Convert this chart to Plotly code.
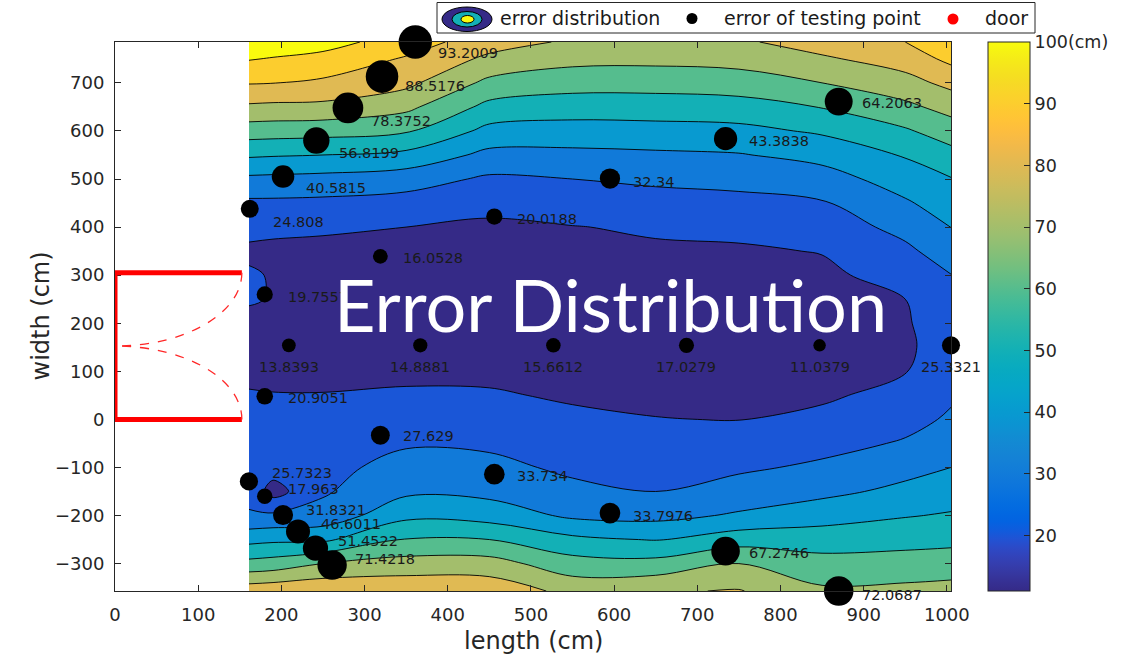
import numpy as np
import plotly.graph_objects as go

# ---------------------------------------------------------------------------
# Testing points: position (cm) and positioning error (cm)
# ---------------------------------------------------------------------------
point_x = [361, 321, 280, 242, 202, 162, 456, 595, 734, 870,
           319, 180, 209, 367, 527, 687, 847, 1005, 180, 319,
           456, 595, 734, 870, 161, 180, 202, 220, 241, 261]
point_y = [785, 713, 648, 580, 505, 438, 422, 501, 584, 661,
           339, 260, 154, 154, 154, 154, 154, 154, 48, -33,
           -114, -195, -274, -357, -129, -160, -199, -233, -268, -303]
point_err = [93.2009, 88.5176, 78.3752, 56.8199, 40.5815, 24.808, 20.0188, 32.34, 43.3838, 64.2063,
             16.0528, 19.7557, 13.8393, 14.8881, 15.6612, 17.0279, 11.0379, 25.3321, 20.9051, 27.629,
             33.734, 33.7976, 67.2746, 72.0687, 25.7323, 17.963, 31.8321, 46.6011, 51.4522, 71.4218]

# label placement next to each point (pixel offsets, anchor)
label_dx = [21] * 12 + [0] * 6 + [21] * 12
label_dy = [11, 9, 13, 12, 11, 13, 2, 3, 2, 1,
            2, 3, 22, 22, 22, 22, 22, 22, 2, 1,
            2, 3, 2, 4, -8, -7, -5, -7, -7, -6]
label_anchor = ["left"] * 12 + ["center"] * 6 + ["left"] * 12

# ---------------------------------------------------------------------------
# Error surface (cm) on a length x width grid, one profile per length column
# ---------------------------------------------------------------------------
grid_x = [161, 190, 250, 350, 450, 550, 650, 750, 850, 950, 1005]
grid_y = [-357, -300, -250, -200, -150, -100, -50, 0, 50, 100, 150, 200,
          250, 300, 350, 400, 450, 500, 550, 600, 650, 700, 750, 785]

err_x161 = [86, 63.0, 46.9, 31.0, 27.1, 24.9, 23.4, 22.0, 20.6, 18.3, 15.5, 17.9,
            20.8, 21.0, 18.5, 22.5, 28.1, 38.0, 51.4, 64.9, 78.4, 90.6, 100.6, 107]
err_x190 = [87, 64.3, 48.0, 31.7, 16.0, 24.5, 24.0, 22.8, 20.4, 17.5, 14.2, 16.5,
            19.5, 19.4, 18.5, 21.5, 28.1, 37.6, 50.8, 64.5, 77.8, 90.2, 99.4, 106]
err_x250 = [88.5, 70.0, 48.1, 33.5, 28.8, 27.0, 25.6, 23.8, 20.5, 16.5, 14.3, 14.6,
            15.0, 15.6, 17.5, 21.4, 27.7, 36.8, 50.0, 63.8, 77.5, 88.3, 96.9, 104]
err_x350 = [87.5, 74.1, 60.5, 47.5, 38.1, 33.5, 29.0, 25.2, 21.3, 17.8, 14.9, 15.2,
            15.5, 15.8, 16.8, 20.0, 26.1, 34.5, 47.4, 61.1, 72.5, 82.5, 89.0, 95]
err_x450 = [86.5, 74.1, 60.0, 45.7, 37.2, 32.6, 28.4, 24.7, 21.0, 17.8, 15.2, 15.8,
            16.5, 17.2, 18.0, 18.8, 22.0, 28.4, 37.3, 47.1, 57.1, 67.5, 77.9, 84.4]
err_x550 = [77.0, 64.0, 52.3, 38.2, 32.4, 28.1, 25.0, 21.9, 18.8, 16.8, 15.7, 16.2,
            16.8, 17.5, 18.4, 19.7, 24.6, 30.0, 37.5, 45.9, 54.8, 64.0, 73.0, 78.5]
err_x650 = [79.0, 63.3, 49.4, 37.1, 30.0, 26.7, 23.5, 20.2, 18.5, 17.6, 16.9, 17.3,
            17.8, 18.3, 18.8, 21.1, 26.2, 31.8, 38.4, 46.5, 55.0, 63.9, 72.6, 77.8]
err_x750 = [80.6, 70.0, 55.6, 41.2, 34.2, 28.4, 24.1, 19.8, 17.5, 15.8, 15.0, 15.6,
            16.5, 17.5, 18.8, 22.4, 27.3, 32.9, 39.4, 47.3, 56.0, 65.1, 73.7, 78.5]
err_x850 = [71.7, 63.5, 55.4, 45.8, 37.5, 31.7, 26.9, 22.5, 18.4, 14.9, 11.3, 13.2,
            15.6, 17.9, 20.4, 24.8, 29.1, 35.7, 43.2, 51.4, 60.4, 70.0, 78.6, 84.5]
err_x950 = [72.5, 64.1, 56.7, 49.4, 42.4, 36.9, 30.9, 27.1, 23.4, 19.6, 18.2, 18.8,
            20.0, 24.0, 28.0, 32.9, 38.8, 44.7, 50.8, 58.8, 67.7, 76.5, 84.5, 90]
err_x1005 = [73.5, 64.8, 57.5, 50.9, 45.4, 40.0, 35.6, 31.2, 28.8, 26.5, 25.3, 26.7,
             28.0, 29.8, 34.8, 40.1, 44.8, 49.5, 56.8, 64.9, 73.6, 82.7, 92.5, 99]

error_columns = [err_x161, err_x190, err_x250, err_x350, err_x450, err_x550,
                 err_x650, err_x750, err_x850, err_x950, err_x1005]
error_grid = np.array(error_columns).T  # rows follow grid_y

contour_levels = [20, 30, 40, 50, 60, 70, 80, 90, 100]
color_min = min(point_err)
color_max = 100
cbar_ticks = [20, 30, 40, 50, 60, 70, 80, 90, 100]
cbar_text = ["20", "30", "40", "50", "60", "70", "80", "90", "100(cm)"]

# door outline (cm)
door_y0, door_y1 = 0, 305
door_leaf = (door_y1 - door_y0) / 2

# ---------------------------------------------------------------------------
# Colormap (parula)
# ---------------------------------------------------------------------------
PARULA = [
    (0.2081, 0.1663, 0.5292), (0.2116, 0.1898, 0.5777), (0.2123, 0.2138, 0.6270), (0.2081, 0.2386, 0.6771),
    (0.1959, 0.2645, 0.7279), (0.1707, 0.2919, 0.7792), (0.1253, 0.3242, 0.8303), (0.0591, 0.3598, 0.8683),
    (0.0117, 0.3875, 0.8820), (0.0060, 0.4086, 0.8828), (0.0165, 0.4266, 0.8786), (0.0329, 0.4430, 0.8720),
    (0.0498, 0.4586, 0.8641), (0.0629, 0.4737, 0.8554), (0.0723, 0.4887, 0.8467), (0.0779, 0.5040, 0.8384),
    (0.0793, 0.5200, 0.8312), (0.0749, 0.5375, 0.8263), (0.0641, 0.5570, 0.8240), (0.0488, 0.5772, 0.8228),
    (0.0343, 0.5966, 0.8199), (0.0265, 0.6137, 0.8135), (0.0239, 0.6287, 0.8038), (0.0231, 0.6418, 0.7913),
    (0.0228, 0.6535, 0.7768), (0.0267, 0.6642, 0.7607), (0.0384, 0.6743, 0.7436), (0.0590, 0.6838, 0.7254),
    (0.0843, 0.6928, 0.7062), (0.1133, 0.7015, 0.6859), (0.1453, 0.7098, 0.6646), (0.1801, 0.7177, 0.6424),
    (0.2178, 0.7250, 0.6193), (0.2586, 0.7317, 0.5954), (0.3022, 0.7376, 0.5712), (0.3482, 0.7424, 0.5473),
    (0.3953, 0.7459, 0.5244), (0.4420, 0.7481, 0.5033), (0.4871, 0.7491, 0.4840), (0.5300, 0.7491, 0.4661),
    (0.5709, 0.7485, 0.4494), (0.6099, 0.7473, 0.4337), (0.6473, 0.7456, 0.4188), (0.6834, 0.7435, 0.4044),
    (0.7184, 0.7411, 0.3905), (0.7525, 0.7384, 0.3768), (0.7858, 0.7356, 0.3633), (0.8185, 0.7327, 0.3498),
    (0.8507, 0.7299, 0.3360), (0.8824, 0.7274, 0.3217), (0.9139, 0.7258, 0.3063), (0.9450, 0.7261, 0.2886),
    (0.9739, 0.7314, 0.2666), (0.9938, 0.7455, 0.2403), (0.9990, 0.7653, 0.2164), (0.9955, 0.7861, 0.1967),
    (0.9880, 0.8066, 0.1794), (0.9789, 0.8271, 0.1633), (0.9697, 0.8481, 0.1475), (0.9626, 0.8705, 0.1309),
    (0.9589, 0.8949, 0.1132), (0.9598, 0.9218, 0.0948), (0.9661, 0.9514, 0.0755), (0.9763, 0.9831, 0.0538),
]


def rgb(c):
    return "rgb(%d,%d,%d)" % tuple(round(255 * v) for v in c)


def parula_at(f):
    f = min(max(f, 0.0), 1.0) * (len(PARULA) - 1)
    i = min(int(f), len(PARULA) - 2)
    t = f - i
    a, b = PARULA[i], PARULA[i + 1]
    return rgb([a[k] + (b[k] - a[k]) * t for k in range(3)])


def level_color(v):
    return parula_at((v - color_min) / (color_max - color_min))


# each filled band takes the colour of its lower contour level
band_floor = [color_min] + contour_levels
band_colors = [level_color(v) for v in band_floor]
n_band = len(band_colors) - 1
fill_scale = [[k / n_band, c] for k, c in enumerate(band_colors)]
parula_scale = [[i / (len(PARULA) - 1), rgb(c)] for i, c in enumerate(PARULA)]

# ---------------------------------------------------------------------------
# Figure geometry
# ---------------------------------------------------------------------------
W, H = 1142, 664
ML, MR, MT, MB = 115, 191, 42, 73
PW, PH = W - ML - MR, H - MT - MB
AX = "#262626"
TXT = "#1a1a1a"
FONT = "DejaVu Sans"


def fx(p):
    return (p - ML) / PW


def fy(p):
    return (H - MB - p) / PH


fig = go.Figure()

fig.add_trace(go.Contour(
    x=grid_x, y=grid_y, z=error_grid,
    autocontour=False,
    contours=dict(start=contour_levels[0], end=contour_levels[-1],
                  size=contour_levels[1] - contour_levels[0],
                  coloring="fill", showlines=True),
    colorscale=fill_scale,
    line=dict(color="black", width=0.9, smoothing=1.0),
    showscale=False, hoverinfo="skip", showlegend=False,
))

# continuous colour bar
fig.add_trace(go.Scatter(
    x=[None], y=[None], mode="markers", showlegend=False, hoverinfo="skip",
    marker=dict(color=[color_min], colorscale=parula_scale, cmin=color_min, cmax=color_max,
                showscale=True,
                colorbar=dict(x=fx(988), xanchor="left", xpad=0, y=0.5, yanchor="middle", ypad=0,
                              len=1, lenmode="fraction", thickness=42, thicknessmode="pixels",
                              outlinecolor=AX, outlinewidth=1,
                              tickvals=cbar_ticks, ticktext=cbar_text,
                              ticks="inside", ticklen=6, tickcolor=AX,
                              tickfont=dict(family=FONT, size=17.5, color=AX))),
))

# testing points, dot area grows with the error
fig.add_trace(go.Scatter(
    x=point_x, y=point_y, mode="markers", showlegend=False, hoverinfo="skip",
    cliponaxis=False,
    marker=dict(color="black", opacity=1, size=[3.3 * np.sqrt(e) + 1.5 for e in point_err],
                line=dict(width=0)),
))

annotations = []
for xv, yv, ev, dx, dy, anc in zip(point_x, point_y, point_err, label_dx, label_dy, label_anchor):
    annotations.append(dict(
        x=xv, y=yv, xref="x", yref="y", text=f"{ev:.6g}", showarrow=False,
        xanchor=anc, yanchor="middle", xshift=dx, yshift=-dy,
        font=dict(family=FONT, size=14.5, color=TXT)))

# axis titles
annotations.append(dict(x=fx(40), y=0.5, xref="paper", yref="paper", text="width (cm)",
                        textangle=-90, showarrow=False, xanchor="center", yanchor="middle",
                        font=dict(family=FONT, size=24, color=AX)))
annotations.append(dict(x=0.5, y=fy(641), xref="paper", yref="paper", text="length (cm)",
                        showarrow=False, xanchor="center", yanchor="middle",
                        font=dict(family=FONT, size=24, color=AX)))

# overlay title
annotations.append(dict(x=fx(610), y=fy(304), xref="paper", yref="paper", text="Error Distribution",
                        showarrow=False, xanchor="center", yanchor="middle", borderpad=0,
                        font=dict(family="Lato", size=72, color="white")))

# legend
legend_items = [("error distribution", 498), ("error of testing point", 722), ("door", 983)]
for label, xp in legend_items:
    annotations.append(dict(x=fx(xp), y=fy(18.5), xref="paper", yref="paper", text=label,
                            showarrow=False, xanchor="left", yanchor="middle",
                            font=dict(family=FONT, size=19, color=TXT)))

shapes = []
# door: frame and swing arcs
door_line = dict(color="rgb(255,0,0)", width=5)
shapes.append(dict(type="line", xref="x", yref="y", x0=0, y0=door_y1, x1=door_leaf, y1=door_y1,
                   line=door_line, layer="above"))
shapes.append(dict(type="line", xref="x", yref="y", x0=0, y0=door_y0, x1=door_leaf, y1=door_y0,
                   line=door_line, layer="above"))
shapes.append(dict(type="line", xref="x", yref="y", x0=0, y0=door_y0, x1=0, y1=door_y1,
                   line=door_line, layer="above"))
k = 0.5523
arc_top = (f"M {door_leaf},{door_y1} C {door_leaf},{door_y1 - k * door_leaf} "
           f"{k * door_leaf},{door_y1 - door_leaf} 0,{door_y1 - door_leaf}")
arc_bot = (f"M {door_leaf},{door_y0} C {door_leaf},{door_y0 + k * door_leaf} "
           f"{k * door_leaf},{door_y0 + door_leaf} 0,{door_y0 + door_leaf}")
for p in (arc_top, arc_bot):
    shapes.append(dict(type="path", xref="x", yref="y", path=p,
                       line=dict(color="rgb(255,40,40)", width=1.3, dash="dash"), layer="above"))

# legend box and symbols
shapes.append(dict(type="rect", xref="paper", yref="paper", x0=fx(437), x1=fx(1035), y0=fy(33), y1=fy(2.5),
                   line=dict(color=AX, width=1), fillcolor="white", layer="above"))
for (x0, x1, y0, y1, col) in [(442, 492, 7, 31.5, band_colors[0]),
                              (452, 482, 11.5, 27, band_colors[4]),
                              (461, 474, 15.5, 23, band_colors[-1])]:
    shapes.append(dict(type="circle", xref="paper", yref="paper", x0=fx(x0), x1=fx(x1), y0=fy(y1), y1=fy(y0),
                       line=dict(color="black", width=1), fillcolor=col, layer="above"))
shapes.append(dict(type="circle", xref="paper", yref="paper", x0=fx(686.5), x1=fx(697.5), y0=fy(24), y1=fy(13),
                   line=dict(width=0), fillcolor="black", layer="above"))
shapes.append(dict(type="circle", xref="paper", yref="paper", x0=fx(947.5), x1=fx(958.5), y0=fy(24.5), y1=fy(13.5),
                   line=dict(width=0), fillcolor="rgb(255,0,0)", layer="above"))

axis_common = dict(showgrid=False, zeroline=False, showline=True, linecolor=AX, linewidth=1,
                   mirror="ticks", ticks="inside", ticklen=6, tickcolor=AX,
                   tickfont=dict(family=FONT, size=18, color=AX))

fig.update_layout(
    width=W, height=H,
    margin=dict(l=ML, r=MR, t=MT, b=MB, pad=0),
    paper_bgcolor="white", plot_bgcolor="white",
    showlegend=False,
    xaxis=dict(range=[0, 1005], tickvals=list(range(0, 1001, 100)), ticklabelstandoff=7, **axis_common),
    yaxis=dict(range=[-357, 785], tickvals=list(range(-300, 701, 100)), ticklabelstandoff=6, **axis_common),
    annotations=annotations,
    shapes=shapes,
)

fig.write_html("out.html")
